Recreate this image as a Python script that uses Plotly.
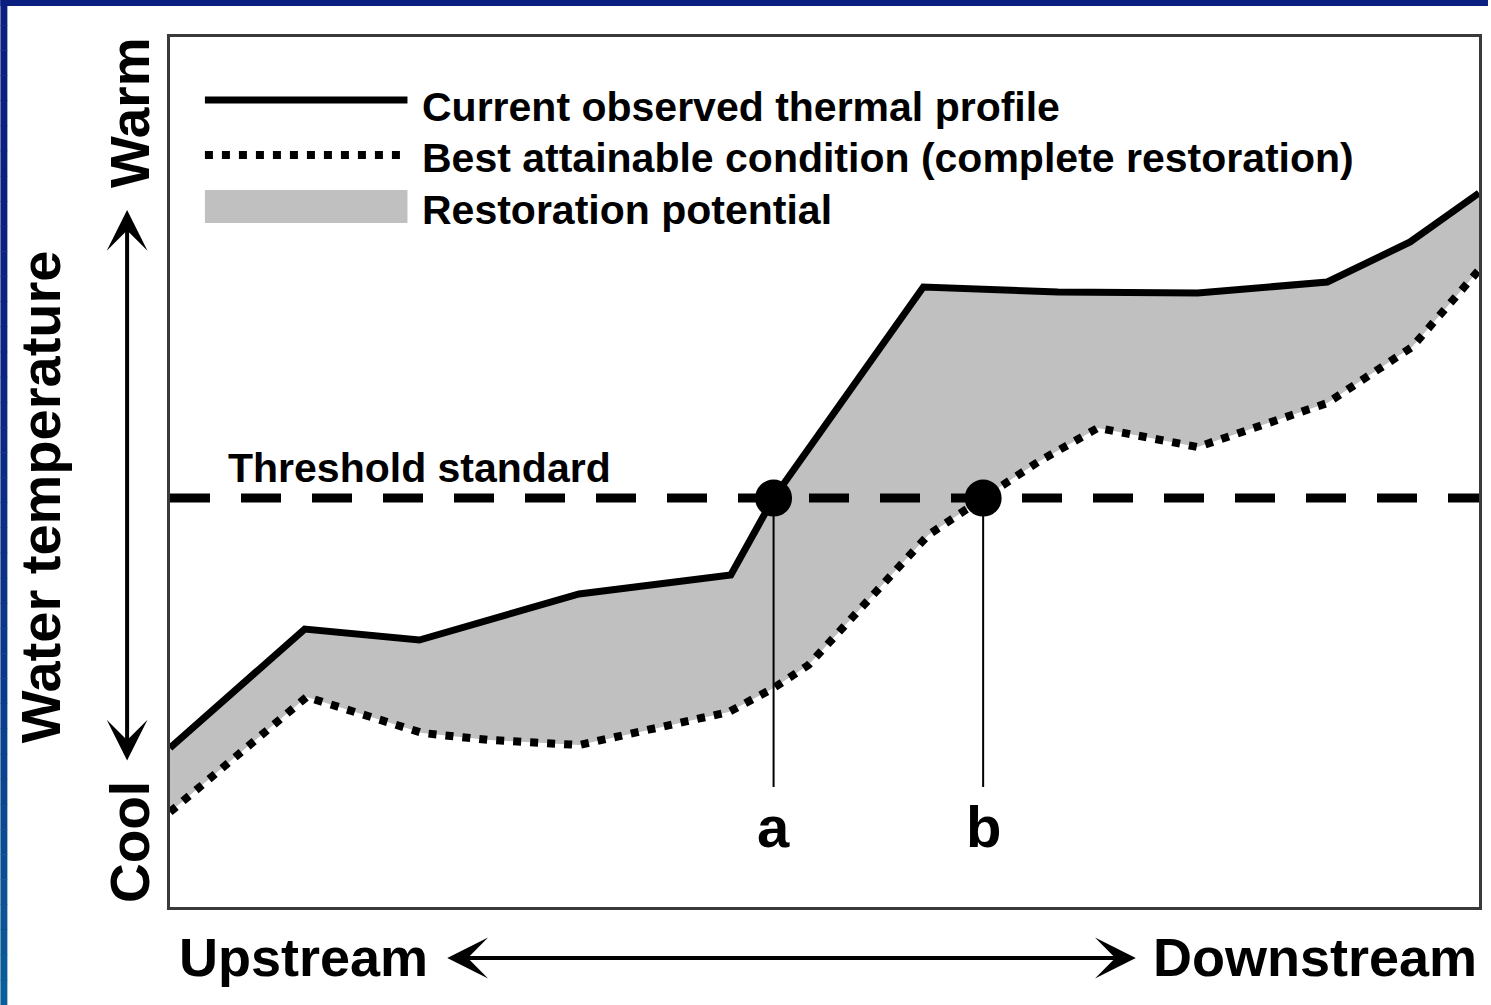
import plotly.graph_objects as go

# ---------------- data (x: distance along stream 0-100, y: relative water temperature 0-100)
current_x = [0, 10.29, 19.05, 31.25, 42.84, 46.11, 57.55, 67.84, 78.51, 88.41, 94.74, 100]
current_y = [18.28, 31.95, 30.69, 35.98, 38.16, 47.01, 71.26, 70.69, 70.57, 71.84, 76.44, 82.07]

best_x = [0, 10.44, 19.28, 24.39, 31.25, 36.59, 42.68, 46.11, 48.78, 53.35, 57.93, 62.12,
          66.31, 70.88, 78.51, 88.41, 94.89, 100]
best_y = [10.92, 24.14, 20.0, 19.2, 18.62, 20.34, 22.41, 25.17, 27.82, 35.29, 42.76, 47.01,
          51.15, 55.06, 52.87, 57.93, 64.37, 73.22]

threshold = 47.0
threshold_x = [0, 100]
crossing_x = [46.11, 62.12]
crossing_labels = ["a", "b"]
crossing_label_y = 9.2
crossing_stem_bottom = 13.8

legend_labels = ["Current observed thermal profile",
                 "Best attainable condition (complete restoration)",
                 "Restoration potential"]

W, H = 1491, 1005
L, R, T, B = 170, 1482, 37, 907   # plot area in pixels
FONT = "Liberation Sans, Arial, sans-serif"


def px(xp):
    return (xp - L) / (R - L)


def py(yp):
    return (B - yp) / (B - T)


fig = go.Figure()

# fill between the two profiles
fig.add_trace(go.Scatter(x=best_x, y=best_y, mode="lines", line=dict(width=0, color="rgba(0,0,0,0)"),
                         showlegend=False, hoverinfo="skip"))
fig.add_trace(go.Scatter(x=current_x, y=current_y, mode="lines", line=dict(width=0, color="rgba(0,0,0,0)"),
                         fill="tonexty", fillcolor="#c0c0c0", showlegend=False, hoverinfo="skip"))

# threshold dashed line
fig.add_trace(go.Scatter(x=threshold_x, y=[threshold, threshold], mode="lines",
                         line=dict(color="black", width=9, dash="40px,31px"), showlegend=False))

# profiles
fig.add_trace(go.Scatter(x=best_x, y=best_y, mode="lines",
                         line=dict(color="black", width=8, dash="8px,9px"), showlegend=False))
fig.add_trace(go.Scatter(x=current_x, y=current_y, mode="lines",
                         line=dict(color="black", width=7), showlegend=False))

# stems from crossing points
for cx in crossing_x:
    fig.add_trace(go.Scatter(x=[cx, cx], y=[threshold, crossing_stem_bottom], mode="lines",
                             line=dict(color="black", width=2), showlegend=False))

# crossing markers
fig.add_trace(go.Scatter(x=crossing_x, y=[threshold] * len(crossing_x), mode="markers",
                         marker=dict(color="black", size=37), showlegend=False))

annotations = []
for cx, lab in zip(crossing_x, crossing_labels):
    annotations.append(dict(x=cx, y=crossing_label_y, xref="x", yref="y", text=lab, showarrow=False,
                            font=dict(family=FONT, size=58, color="black", weight="bold"),
                            xanchor="center", yanchor="middle"))

annotations.append(dict(x=px(226), y=py(468), xref="paper", yref="paper", text="Threshold standard",
                        showarrow=False, xanchor="left", yanchor="middle",
                        font=dict(family=FONT, size=41, color="black", weight="bold")))

# manual legend
shapes = []
shapes.append(dict(type="line", xref="paper", yref="paper", x0=px(205), x1=px(408), y0=py(100), y1=py(100),
                   line=dict(color="black", width=7)))
shapes.append(dict(type="line", xref="paper", yref="paper", x0=px(205), x1=px(408), y0=py(155), y1=py(155),
                   line=dict(color="black", width=8, dash="8px,9px")))
shapes.append(dict(type="rect", xref="paper", yref="paper", x0=px(205), x1=px(408), y0=py(223), y1=py(190),
                   line=dict(width=0), fillcolor="#c0c0c0"))
for lab, yy in zip(legend_labels, [107, 158, 210]):
    annotations.append(dict(x=px(421), y=py(yy), xref="paper", yref="paper", text=lab, showarrow=False,
                            xanchor="left", yanchor="middle",
                            font=dict(family=FONT, size=41, color="black", weight="bold")))

# axis words
annotations.append(dict(x=px(40), y=py(497), xref="paper", yref="paper", text="Water temperature",
                        textangle=-90, showarrow=False, xanchor="center", yanchor="middle",
                        font=dict(family=FONT, size=56, color="black", weight="bold")))
annotations.append(dict(x=px(130), y=py(113), xref="paper", yref="paper", text="Warm",
                        textangle=-90, showarrow=False, xanchor="center", yanchor="middle",
                        font=dict(family=FONT, size=55, color="black", weight="bold")))
annotations.append(dict(x=px(130), y=py(842), xref="paper", yref="paper", text="Cool",
                        textangle=-90, showarrow=False, xanchor="center", yanchor="middle",
                        font=dict(family=FONT, size=55, color="black", weight="bold")))
annotations.append(dict(x=px(177), y=py(957), xref="paper", yref="paper", text="Upstream",
                        showarrow=False, xanchor="left", yanchor="middle",
                        font=dict(family=FONT, size=54, color="black", weight="bold")))
annotations.append(dict(x=px(1482), y=py(957), xref="paper", yref="paper", text="Downstream",
                        showarrow=False, xanchor="right", yanchor="middle",
                        font=dict(family=FONT, size=54, color="black", weight="bold")))

# double arrows
annotations.append(dict(x=px(127), y=py(210), xref="paper", yref="paper", text="", showarrow=True,
                        ax=0, ay=552, axref="pixel", ayref="pixel", arrowside="end+start",
                        arrowhead=3, startarrowhead=3, arrowsize=1.7, startarrowsize=1.7,
                        arrowwidth=4, arrowcolor="black", standoff=0, startstandoff=0))
annotations.append(dict(x=px(1138), y=py(958), xref="paper", yref="paper", text="", showarrow=True,
                        ax=-690, ay=0, axref="pixel", ayref="pixel", arrowside="end+start",
                        arrowhead=3, startarrowhead=3, arrowsize=1.7, startarrowsize=1.7,
                        arrowwidth=4, arrowcolor="black", standoff=0, startstandoff=0))

# blue frame of the slide: top bar and left bar with vertical gradient
shapes.append(dict(type="rect", xref="paper", yref="paper", x0=px(0), x1=px(W), y0=py(6), y1=py(0),
                   line=dict(width=0), fillcolor="#0a1f7f", layer="above"))
n = 40
for i in range(n):
    t0 = i / n
    t = (i + 0.5) / n
    k = t ** 2.2
    r = 10
    g = int(31 + (96 - 31) * k)
    b = int(127 + (154 - 127) * k)
    shapes.append(dict(type="rect", xref="paper", yref="paper", x0=px(0), x1=px(7),
                       y0=py(H * (i + 1) / n + 0.5), y1=py(H * t0),
                       line=dict(width=0), fillcolor=f"rgb({r},{g},{b})", layer="above"))

fig.update_layout(
    width=W, height=H,
    margin=dict(l=L, r=W - R, t=T, b=H - B, pad=0),
    paper_bgcolor="white", plot_bgcolor="white",
    xaxis=dict(range=[0, 100], showgrid=False, zeroline=False, showticklabels=False, ticks="",
               showline=True, mirror=True, linecolor="#3a3a3a", linewidth=2.5, fixedrange=True),
    yaxis=dict(range=[0, 100], showgrid=False, zeroline=False, showticklabels=False, ticks="",
               showline=True, mirror=True, linecolor="#3a3a3a", linewidth=2.5, fixedrange=True),
    annotations=annotations, shapes=shapes, showlegend=False,
)

fig.write_html("out.html", config={"displayModeBar": False},
               post_script="document.body.style.margin='0';document.body.style.overflow='hidden';")
